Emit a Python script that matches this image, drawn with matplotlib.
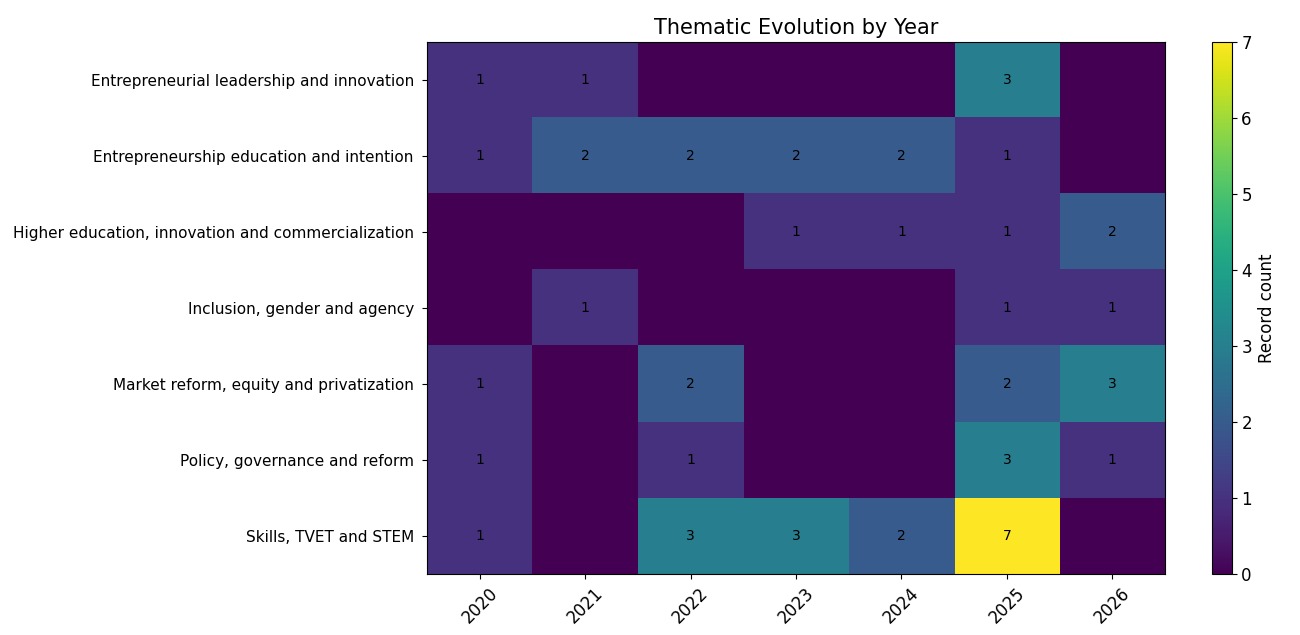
import matplotlib
matplotlib.use("Agg")
import matplotlib.pyplot as plt
import numpy as np

themes = [
    "Entrepreneurial leadership and innovation",
    "Entrepreneurship education and intention",
    "Higher education, innovation and commercialization",
    "Inclusion, gender and agency",
    "Market reform, equity and privatization",
    "Policy, governance and reform",
    "Skills, TVET and STEM",
]
years = ["2020", "2021", "2022", "2023", "2024", "2025", "2026"]
leadership = [1, 1, 0, 0, 0, 3, 0]
education = [1, 2, 2, 2, 2, 1, 0]
higher_ed = [0, 0, 0, 1, 1, 1, 2]
inclusion = [0, 1, 0, 0, 0, 1, 1]
market = [1, 0, 2, 0, 0, 2, 3]
policy = [1, 0, 1, 0, 0, 3, 1]
skills = [1, 0, 3, 3, 2, 7, 0]

data = np.array([leadership, education, higher_ed, inclusion, market, policy, skills])

fig = plt.figure(figsize=(13, 6.35), dpi=100)
ax = fig.add_axes([0.3285, 0.096, 0.5677, 0.838])
cax = fig.add_axes([0.932, 0.096, 0.0154, 0.838])

im = ax.imshow(data, cmap="viridis", aspect="auto", vmin=0, vmax=7)
ax.set_xticks(range(len(years)))
ax.set_xticklabels(years, rotation=45, fontsize=12)
ax.set_yticks(range(len(themes)))
ax.set_yticklabels(themes, fontsize=11)
ax.tick_params(axis="y", pad=6)
ax.set_title("Thematic Evolution by Year", fontsize=15)

for i in range(data.shape[0]):
    for j in range(data.shape[1]):
        if data[i, j] > 0:
            ax.text(j, i, str(data[i, j]), ha="center", va="center", fontsize=10, color="black")

cb = fig.colorbar(im, cax=cax)
cb.set_label("Record count", fontsize=12)
cb.ax.tick_params(labelsize=12)

fig.savefig("out.png", dpi=100)
